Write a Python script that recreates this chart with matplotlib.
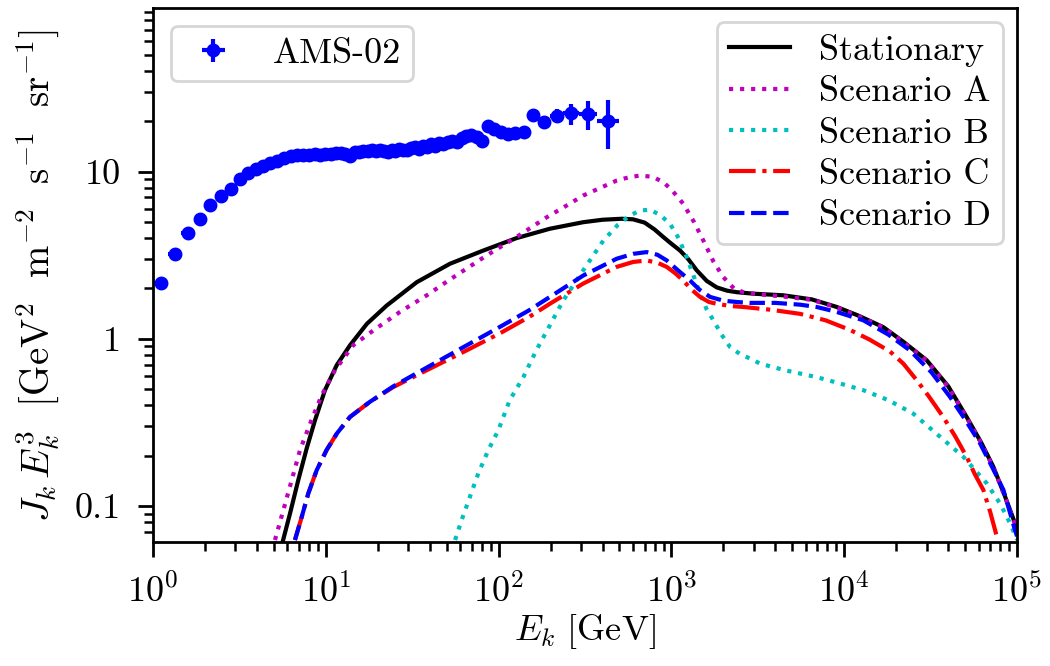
import numpy as np
import matplotlib
matplotlib.use("Agg")
import matplotlib.pyplot as plt
from matplotlib.ticker import FuncFormatter
from matplotlib.legend_handler import HandlerErrorbar

plt.rcParams['font.family'] = 'serif'
plt.rcParams['font.serif'] = ['cmr10']
plt.rcParams['mathtext.fontset'] = 'cm'
plt.rcParams['axes.unicode_minus'] = False
plt.rcParams['axes.formatter.use_mathtext'] = True
plt.rcParams['font.size'] = 13
plt.rcParams['axes.linewidth'] = 1.0
for a in ('xtick', 'ytick'):
    plt.rcParams[f'{a}.major.size'] = 5.4
    plt.rcParams[f'{a}.minor.size'] = 3.2
    plt.rcParams[f'{a}.major.width'] = 1.0
    plt.rcParams[f'{a}.minor.width'] = 0.9
    plt.rcParams[f'{a}.major.pad'] = 6.0
    plt.rcParams[f'{a}.minor.pad'] = 6.0

# ---------------- AMS-02 data (bin edges, flux*E^3, error) ----------------
E_lo = [1.01, 1.22, 1.46, 1.72, 2.00, 2.31, 2.65, 3.00, 3.36, 3.73, 4.12, 4.54, 5.00, 5.49,
        6.00, 6.54, 7.10, 7.69, 8.30, 8.95, 9.62, 10.32, 11.04, 11.80, 12.59, 13.41, 14.25,
        15.14, 16.05, 17.00, 17.98, 18.99, 20.04, 21.13, 22.25, 23.42, 24.62, 25.90, 27.25,
        28.68, 30.21, 31.82, 33.53, 35.36, 37.31, 39.39, 41.61, 44.00, 46.57, 49.33, 52.33,
        55.58, 59.13, 63.02, 67.30, 72.05, 77.37, 83.36, 90.19, 98.08, 107.3, 118.4, 132.1,
        148.8, 169.9, 197.7, 237.2, 290.0, 370.0]
E_hi = [1.22, 1.46, 1.72, 2.00, 2.31, 2.65, 3.00, 3.36, 3.73, 4.12, 4.54, 5.00, 5.49, 6.00,
        6.54, 7.10, 7.69, 8.30, 8.95, 9.62, 10.32, 11.04, 11.80, 12.59, 13.41, 14.25, 15.14,
        16.05, 17.00, 17.98, 18.99, 20.04, 21.13, 22.25, 23.42, 24.62, 25.90, 27.25, 28.68,
        30.21, 31.82, 33.53, 35.36, 37.31, 39.39, 41.61, 44.00, 46.57, 49.33, 52.33, 55.58,
        59.13, 63.02, 67.30, 72.05, 77.37, 83.36, 90.19, 98.08, 107.3, 118.4, 132.1, 148.8,
        169.9, 197.7, 237.2, 290.0, 370.0, 500.0]
E_c = [1.11, 1.34, 1.59, 1.86, 2.15, 2.48, 2.82, 3.18, 3.54, 3.92, 4.33, 4.77, 5.24, 5.74,
       6.27, 6.81, 7.39, 7.99, 8.62, 9.28, 9.96, 10.67, 11.41, 12.19, 12.99, 13.82, 14.69,
       15.59, 16.52, 17.48, 18.48, 19.51, 20.58, 21.68, 22.83, 24.01, 25.25, 26.57, 27.96,
       29.44, 31.01, 32.67, 34.44, 36.33, 38.35, 40.50, 42.80, 45.27, 47.93, 50.81, 53.93,
       57.33, 61.04, 65.13, 69.64, 74.66, 80.31, 86.71, 94.06, 102.6, 112.7, 125.1, 140.2,
       159.0, 183.3, 216.6, 262.3, 327.6, 430.1]
flux = [2.16, 3.23, 4.28, 5.2, 6.3, 7.1, 7.9, 9.08, 9.77, 10.3, 10.8, 11.2, 11.6, 12.0,
        12.3, 12.5, 12.5, 12.6, 12.7, 12.6, 12.8, 12.7, 12.9, 12.9, 12.8, 12.3, 13.0,
        13.1, 13.2, 13.3, 13.4, 13.3, 13.5, 13.2, 13.1, 13.4, 13.3, 13.6, 13.5,
        13.4, 13.9, 14.0, 13.7, 14.3, 14.1, 14.6, 14.3, 14.9, 14.6, 15.0, 15.3,
        15.1, 15.8, 16.2, 16.5, 16.0, 15.2, 18.8, 18.0, 17.2, 16.8, 16.9, 17.3,
        21.9, 19.9, 21.6, 22.3, 22.1, 20.1]
flux_err = [0.05, 0.06, 0.07, 0.08, 0.09, 0.1, 0.1, 0.12, 0.12, 0.13, 0.13, 0.14, 0.14, 0.15,
            0.15, 0.16, 0.16, 0.17, 0.17, 0.18, 0.18, 0.19, 0.2, 0.2, 0.21, 0.21, 0.22,
            0.23, 0.24, 0.25, 0.26, 0.27, 0.28, 0.29, 0.3, 0.31, 0.32, 0.33, 0.34,
            0.35, 0.37, 0.38, 0.4, 0.42, 0.44, 0.46, 0.48, 0.5, 0.53, 0.56, 0.6,
            0.63, 0.67, 0.7, 0.75, 0.8, 0.85, 0.9, 0.95, 1.0, 1.05, 1.1, 1.15,
            1.3, 1.6, 2.1, 3.2, 4.4, 6.5]

# ---------------- model curves ----------------
E_stat = [5.63, 6.21, 6.93, 7.75, 8.66, 9.89, 11.56, 13.8, 17.3, 22.5, 33.6, 52.3, 81.5, 127,
          198, 309, 400, 515, 600, 700, 800, 900, 1000, 1122, 1250, 1400, 1600, 1829, 2100,
          2387, 3000, 4443, 6500, 9055, 12000, 16830, 22000, 30000, 40000, 51100, 62000,
          72900, 85000, 97300, 100000]
J_stat = [0.0612, 0.0904, 0.143, 0.221, 0.326, 0.493, 0.695, 0.914, 1.23, 1.58, 2.18, 2.81,
          3.37, 4.0, 4.55, 4.98, 5.15, 5.22, 5.18, 4.95, 4.5, 4.05, 3.7, 3.37, 3.0, 2.57,
          2.22, 2.03, 1.94, 1.90, 1.86, 1.82, 1.72, 1.55, 1.38, 1.175, 0.96, 0.745, 0.52,
          0.341, 0.24, 0.172, 0.115, 0.079, 0.072]

E_A = [5.08, 5.68, 6.35, 7.09, 8.11, 9.47, 11.3, 14.4, 18.8, 26.9, 38.4, 51.2, 85.3, 127,
       190, 250, 309, 400, 482, 570, 658, 780, 898, 1000, 1172, 1350, 1530, 1750, 1995, 2300,
       2607, 3300, 4443, 6500, 9055, 12000, 16830, 22000, 30000, 40000, 51100, 62000, 72900,
       85000, 97300, 100000]
J_A = [0.0627, 0.0946, 0.143, 0.216, 0.311, 0.46, 0.649, 0.914, 1.12, 1.45, 1.82, 2.23, 3.15,
       4.06, 5.33, 6.3, 7.19, 8.1, 8.83, 9.25, 9.46, 9.3, 8.63, 7.8, 6.41, 5.0, 3.87, 2.9,
       2.34, 2.0, 1.90, 1.84, 1.79, 1.71, 1.54, 1.37, 1.17, 0.955, 0.74, 0.515, 0.338, 0.238,
       0.17, 0.114, 0.078, 0.071]

E_B = [56, 61.1, 68.3, 76.3, 87.2, 99.6, 116, 139, 165, 195, 237, 309, 404, 490, 575, 660,
       752, 860, 982, 1100, 1225, 1350, 1465, 1600, 1750, 1950, 2183, 2500, 2850, 3260, 4500,
       6930, 9500, 12900, 18000, 25100, 35800, 48900, 66700, 80000, 91100, 100000]
J_B = [0.0627, 0.0824, 0.114, 0.157, 0.216, 0.284, 0.43, 0.59, 0.85, 1.17, 1.70, 2.57, 3.87,
       4.8, 5.46, 5.85, 5.91, 5.5, 4.87, 4.0, 3.08, 2.35, 1.86, 1.5, 1.29, 1.06, 0.893, 0.81,
       0.762, 0.711, 0.65, 0.59, 0.54, 0.493, 0.43, 0.357, 0.26, 0.197, 0.137, 0.103, 0.079,
       0.063]

E_C = [6.63, 7.26, 7.92, 8.86, 10.1, 11.6, 13.8, 18.0, 24.6, 38.4, 65.3, 102, 150, 198, 309,
       482, 600, 719, 830, 940, 1050, 1172, 1300, 1465, 1650, 1829, 2200, 2607, 3800, 5550,
       7800, 10800, 14000, 18400, 22000, 26300, 31000, 37400, 44000, 51100, 57000, 63800,
       70000, 76300]
J_C = [0.0627, 0.0863, 0.119, 0.164, 0.216, 0.272, 0.341, 0.42, 0.515, 0.649, 0.853, 1.08,
       1.35, 1.62, 2.14, 2.69, 2.88, 2.94, 2.85, 2.69, 2.47, 2.23, 1.98, 1.78, 1.66, 1.62,
       1.57, 1.55, 1.49, 1.41, 1.29, 1.13, 0.99, 0.84, 0.71, 0.565, 0.45, 0.341, 0.26,
       0.197, 0.155, 0.125, 0.092, 0.066]

E_D = [6.63, 7.26, 7.92, 8.86, 10.1, 11.6, 13.8, 18.0, 24.6, 38.4, 65.3, 102, 150, 198, 309,
       482, 600, 719, 830, 940, 1100, 1282, 1450, 1675, 2000, 2387, 2850, 4000, 5550, 6930,
       9000, 12900, 18000, 24000, 32000, 40900, 50000, 61100, 72000, 83400, 97300, 100000]
J_D = [0.0627, 0.0863, 0.119, 0.164, 0.216, 0.272, 0.341, 0.42, 0.52, 0.673, 0.914, 1.18,
       1.48, 1.78, 2.39, 3.01, 3.22, 3.30, 3.18, 2.94, 2.55, 2.23, 1.97, 1.78, 1.69, 1.66,
       1.64, 1.64, 1.60, 1.55, 1.45, 1.29, 1.06, 0.853, 0.63, 0.45, 0.33, 0.237, 0.17,
       0.125, 0.072, 0.066]

labels = ['Stationary', 'Scenario A', 'Scenario B', 'Scenario C', 'Scenario D']

# ---------------- plot ----------------
fig = plt.figure(figsize=(5.25, 3.33), dpi=200)
ax = fig.add_axes([0.1457, 0.1862, 0.8229, 0.8018])

E_c_arr = np.array(E_c)
xerr = [E_c_arr - np.array(E_lo), np.array(E_hi) - E_c_arr]
eb = ax.errorbar(E_c, flux, xerr=xerr, yerr=flux_err, fmt='o', color='b', ms=4,
                 elinewidth=1.5, capsize=0, label='AMS-02')

l0, = ax.plot(E_stat, J_stat, 'k-', lw=1.5, label=labels[0])
l1, = ax.plot(E_A, J_A, 'm:', lw=1.5, label=labels[1])
l2, = ax.plot(E_B, J_B, 'c:', lw=1.5, label=labels[2])
l3, = ax.plot(E_C, J_C, 'r-.', lw=1.5, label=labels[3])
l4, = ax.plot(E_D, J_D, 'b--', lw=1.5, label=labels[4])

ax.set_xscale('log')
ax.set_yscale('log')
ax.set_xlim(1, 1e5)
ax.set_ylim(0.061, 95)
ax.yaxis.set_major_formatter(FuncFormatter(lambda v, _: f'{v:g}'))

ax.set_xlabel(r'$E_k\ [\mathrm{GeV}]$', labelpad=1)
ax.set_ylabel(r'$J_k\,E_k^3\ \ [\mathrm{GeV}^2\ \ \mathrm{m}^{-2}\ \ \mathrm{s}^{-1}\ \ \mathrm{sr}^{-1}]$',
              fontsize=14, labelpad=5)

leg1 = ax.legend(handles=[eb], labels=['AMS-02'], loc='upper left', handlelength=1.7,
                 borderpad=0.32, handler_map={eb: HandlerErrorbar(xerr_size=0.32)})
ax.add_artist(leg1)
ax.legend(handles=[l0, l1, l2, l3, l4], loc='upper right', handlelength=1.7,
          labelspacing=0.25, borderpad=0.32, borderaxespad=0.4)

fig.savefig('out.png', dpi=200)
